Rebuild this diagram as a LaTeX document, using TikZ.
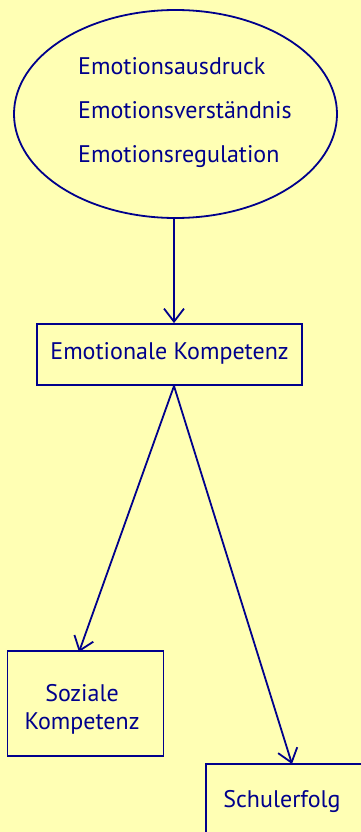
\documentclass[tikz,border=0pt]{standalone}
\usepackage{fontspec}
\setmainfont{PT Sans}
\usetikzlibrary{arrows.meta,shapes.geometric}
\definecolor{bg}{RGB}{255,255,180}
\definecolor{ink}{RGB}{0,0,140}
\tikzset{
  ln/.style={draw=ink,line width=1.8pt},
  arr/.style={ln,-{Straight Barb[length=13pt,width=20pt,line width=1.8pt]}},
  lbl/.style={text=ink,font=\fontsize{24}{28}\selectfont,inner sep=0pt},
  boxnode/.style={ln,rectangle,inner sep=0pt}
}
\begin{document}
\begin{tikzpicture}[x=1pt,y=1pt]
\useasboundingbox (0,0) rectangle (361,-832);
\fill[bg] (0,0) rectangle (361,-832);
\clip (0,0) rectangle (361,-832);
\node[ln,ellipse,minimum width=323pt,minimum height=208pt,inner sep=0pt] (ell) at (175.5,-114) {};
\node[lbl,anchor=west] (t1) at (78,-66) {Emotionsausdruck};
\node[lbl,anchor=west] (t2) at (78,-110) {Emotionsverständnis};
\node[lbl,anchor=west] (t3) at (78,-157) {Emotionsregulation};
\node[boxnode,minimum width=265pt,minimum height=61pt] (ek) at (169.5,-354.5) {};
\node[lbl] (ekt) at (169.5,-353) {Emotionale Kompetenz};
\node[boxnode,minimum width=156pt,minimum height=105pt] (sk) at (85.5,-703.5) {};
\node[lbl,align=center] (skt) at (82,-709) {Soziale\\Kompetenz};
\node[boxnode,minimum width=170pt,minimum height=90pt] (sf) at (291,-809) {};
\node[lbl] (sft) at (282,-801) {Schulerfolg};
\coordinate (eb) at (174,-386);
\draw[arr] (ell.south -| eb) -- (ek.north -| eb);
\draw[arr] (eb) -- (79,-652);
\draw[arr] (eb) -- (292,-764);
\end{tikzpicture}
\end{document}
